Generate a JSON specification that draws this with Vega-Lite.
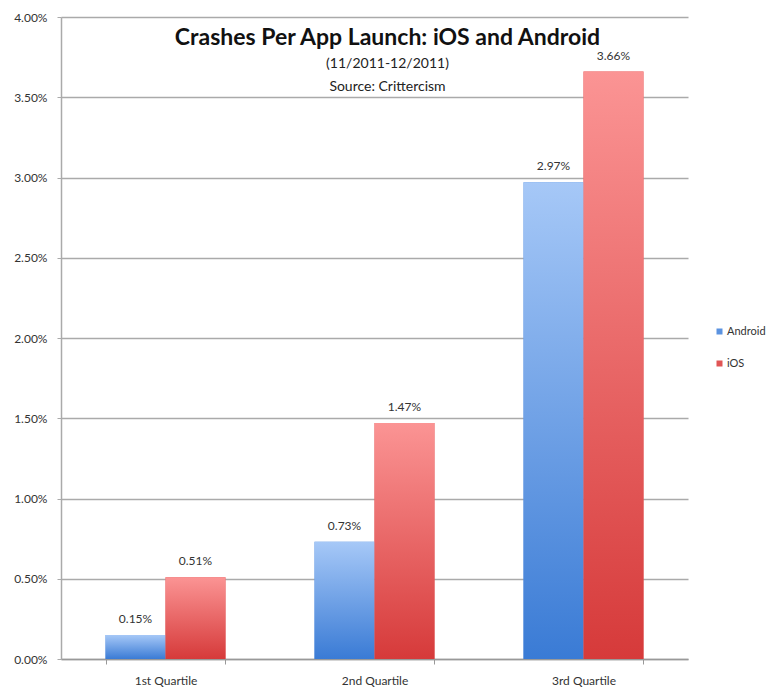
{
  "$schema": "https://vega.github.io/schema/vega-lite/v6.json",
  "width": 627,
  "height": 642,
  "autosize": {"type": "none"},
  "padding": {"left": 61, "top": 17, "right": 82, "bottom": 32},
  "background": "white",
  "config": {
    "font": "Lato",
    "view": {"stroke": null},
    "axis": {"labelFont": "Lato", "labelColor": "#333", "labelFontSize": 12}
  },
  "title": {
    "text": "Crashes Per App Launch: iOS and Android",
    "subtitle": ["(11/2011-12/2011)", "Source: Crittercism"],
    "fontSize": 23,
    "fontWeight": "bold",
    "font": "Lato",
    "color": "#111",
    "subtitleFont": "Lato",
    "subtitleFontSize": 14,
    "subtitleColor": "#222",
    "subtitlePadding": 7,
    "subtitleLineHeight": 23,
    "anchor": "middle",
    "dx": 13,
    "offset": -83,
    "zindex": 2
  },
  "data": {
    "values": [
      {"quartile": "1st Quartile", "platform": "Android", "rate": 0.0015},
      {"quartile": "1st Quartile", "platform": "iOS", "rate": 0.0051},
      {"quartile": "2nd Quartile", "platform": "Android", "rate": 0.0073},
      {"quartile": "2nd Quartile", "platform": "iOS", "rate": 0.0147},
      {"quartile": "3rd Quartile", "platform": "Android", "rate": 0.0297},
      {"quartile": "3rd Quartile", "platform": "iOS", "rate": 0.0366}
    ]
  },
  "encoding": {
    "x": {
      "field": "quartile",
      "type": "nominal",
      "scale": {"paddingInner": 0.426, "paddingOuter": 0.213},
      "axis": {
        "title": null,
        "labelAngle": 0,
        "domainColor": "#999",
        "domainWidth": 1.5,
        "tickColor": "#999",
        "tickSize": 5,
        "tickBand": "extent",
        "labelPadding": 11
      }
    },
    "xOffset": {"field": "platform", "type": "nominal"},
    "y": {
      "field": "rate",
      "type": "quantitative",
      "scale": {"domain": [0, 0.04], "nice": false},
      "axis": {
        "title": null,
        "format": ".2%",
        "values": [0, 0.005, 0.01, 0.015, 0.02, 0.025, 0.03, 0.035, 0.04],
        "gridColor": "#aaa",
        "gridWidth": 1.5,
        "domainColor": "#aaa",
        "domainWidth": 1.5,
        "tickColor": "#aaa",
        "tickSize": 4,
        "labelPadding": 10
      }
    }
  },
  "layer": [
    {
      "mark": {"type": "bar"},
      "encoding": {
        "color": {
          "field": "platform",
          "type": "nominal",
          "scale": {"domain": ["Android", "iOS"], "range": ["#5b93e0", "#e05555"]},
          "legend": {
            "title": null,
            "orient": "none",
            "legendX": 653,
            "legendY": 309,
            "symbolType": "square",
            "symbolSize": 36,
            "symbolStrokeWidth": 0,
            "labelFontSize": 11,
            "labelColor": "#333",
            "labelFont": "Lato",
            "labelLimit": 200,
            "rowPadding": 20,
            "labelOffset": 2
          }
        }
      }
    },
    {
      "mark": {"type": "bar"},
      "encoding": {
        "color": {
          "condition": {
            "test": "datum.platform === 'iOS'",
            "value": {
              "gradient": "linear", "x1": 0, "y1": 0, "x2": 0, "y2": 1,
              "stops": [{"offset": 0, "color": "#fb9494"}, {"offset": 1, "color": "#d63a3a"}]
            }
          },
          "value": {
            "gradient": "linear", "x1": 0, "y1": 0, "x2": 0, "y2": 1,
            "stops": [{"offset": 0, "color": "#a6c8f7"}, {"offset": 1, "color": "#3a7bd5"}]
          }
        }
      }
    },
    {
      "mark": {"type": "text", "baseline": "bottom", "dy": -9, "fontSize": 12, "color": "#333", "font": "Lato"},
      "encoding": {
        "text": {"field": "rate", "type": "quantitative", "format": ".2%"}
      }
    }
  ]
}
